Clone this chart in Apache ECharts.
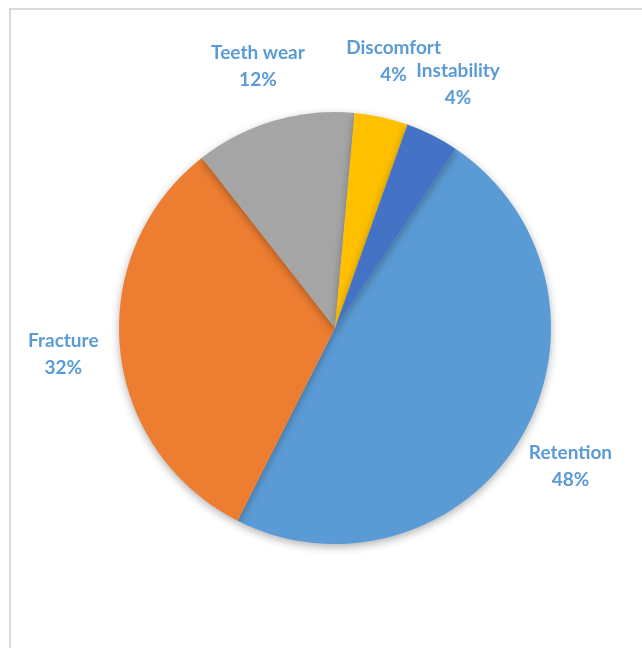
<!DOCTYPE html>
<html>
<head>
<meta charset="utf-8">
<script src="https://cdn.jsdelivr.net/npm/echarts@6/dist/echarts.min.js"></script>
<style>
  html, body { margin: 0; padding: 0; background: #fff; overflow: hidden; }
  .frame {
    position: absolute; left: 9px; top: 8px;
    width: 700px; height: 700px;
    border: 2px solid #d9d9d9;
  }
  #chart { position: absolute; left: 0; top: 0; width: 642px; height: 648px; }
</style>
</head>
<body>
<div class="frame"></div>
<div id="chart"></div>
<script>
// categories and values (shares of 50 cases)
const categories = ['Retention', 'Fracture', 'Teeth wear', 'Discomfort', 'Instability']
const values = [24, 16, 6, 2, 2]
const colors = ['#5B9BD5', '#ED7D31', '#A5A5A5', '#FFC000', '#4472C4']

const pieData = categories.map((name, i) => ({ name: name, value: values[i] }))

const chart = echarts.init(document.getElementById('chart'))
chart.setOption({
  animation: false,
  color: colors,
  series: [
    {
      name: 'Failures',
      type: 'pie',
      center: [335, 328],
      radius: [0, 216],
      startAngle: 56,
      clockwise: true,
      data: pieData,
      label: { show: false },
      labelLine: { show: false },
      emphasis: { disabled: true },
      itemStyle: {
        borderWidth: 0,
        shadowBlur: 9,
        shadowOffsetY: 3,
        shadowColor: 'rgba(0, 0, 0, 0.3)'
      }
    },
    {
      // transparent ring only used to place centered labels
      name: 'labels',
      type: 'pie',
      center: [335, 328],
      radius: [262, 278],
      startAngle: 56,
      clockwise: true,
      silent: true,
      avoidLabelOverlap: false,
      data: pieData,
      itemStyle: { color: 'rgba(0,0,0,0)' },
      emphasis: { disabled: true },
      labelLine: { show: false },
      labelLayout: { hideOverlap: false },
      label: {
        show: true,
        position: 'inside',
        formatter: '{b}\n{d}%',
        color: '#5B9BD5',
        fontFamily: 'Lato',
        fontWeight: 'bold',
        fontSize: 19,
        lineHeight: 27,
        align: 'center'
      }
    }
  ]
})
</script>
</body>
</html>
